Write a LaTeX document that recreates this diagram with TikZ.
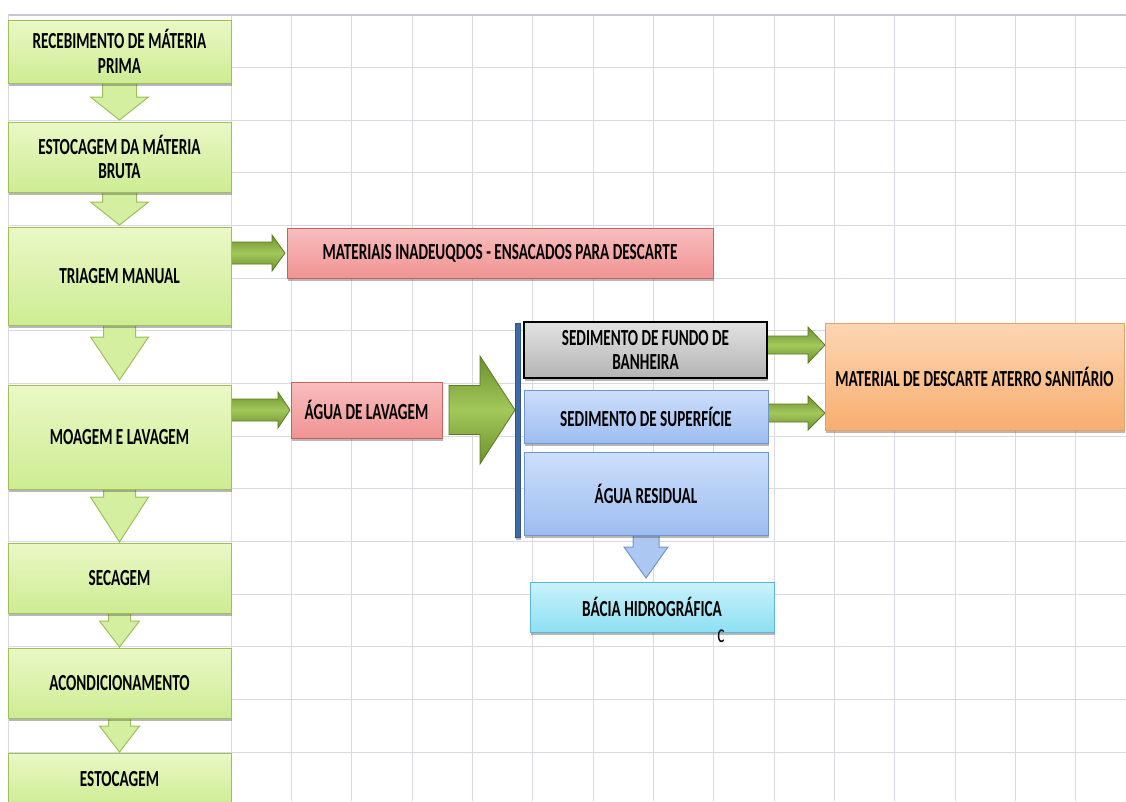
\documentclass[tikz,border=0pt]{standalone}
\usepackage{fontspec}
\setmainfont{Carlito}[FakeStretch=0.66]
\usetikzlibrary{calc,shadows}
\pgfdeclarelayer{grid}
\pgfdeclarelayer{arrows}
\pgfsetlayers{grid,arrows,main}
\definecolor{gridc}{HTML}{D9D9E6}
\definecolor{gtop}{HTML}{EAF8C6}
\definecolor{gbot}{HTML}{CDEC92}
\definecolor{gline}{HTML}{9FBF5A}
\definecolor{darr}{HTML}{D4EFA0}
\definecolor{rarrA}{HTML}{6E902E}
\definecolor{rarrB}{HTML}{A2C85A}
\definecolor{rarrL}{HTML}{5A7A24}
\definecolor{ptop}{HTML}{F8BEBE}
\definecolor{pbot}{HTML}{F19393}
\definecolor{pline}{HTML}{C9605C}
\definecolor{graytop}{HTML}{E2E2E2}
\definecolor{graybot}{HTML}{B4B4B4}
\definecolor{btop}{HTML}{CDDFFB}
\definecolor{bbot}{HTML}{9DBDF0}
\definecolor{bline}{HTML}{6F95CF}
\definecolor{otop}{HTML}{FCD6B2}
\definecolor{obot}{HTML}{F8AE70}
\definecolor{oline}{HTML}{E9A062}
\definecolor{ctop}{HTML}{C9F2FB}
\definecolor{cbot}{HTML}{8EDFF3}
\definecolor{cline}{HTML}{5CB6D6}
\definecolor{barc}{HTML}{3F6AA8}
\newcommand\downarr[6]{%
  \draw[#1] ($(#2)+(-#4,0)$) -- ($(#2)+(#4,0)$) -- ($(#3)+(#4,-#6)$) -- ($(#3)+(#5,-#6)$) -- (#3) -- ($(#3)+(-#5,-#6)$) -- ($(#3)+(-#4,-#6)$) -- cycle;}
\newcommand\rightarr[6]{%
  \draw[#1] ($(#2)+(0,-#4)$) -- ($(#3)+(-#6,-#4)$) -- ($(#3)+(-#6,-#5)$) -- (#3) -- ($(#3)+(-#6,#5)$) -- ($(#3)+(-#6,#4)$) -- ($(#2)+(0,#4)$) -- cycle;}
\begin{document}
\begin{tikzpicture}[x=1pt,y=-1pt,
  box/.style={draw, line width=1pt, rectangle, anchor=north west, inner sep=2pt, outer sep=0pt,
    align=center, font=\fontsize{23}{24.5}\selectfont\bfseries,
    drop shadow={shadow xshift=1pt, shadow yshift=-3pt, opacity=0.4, fill=black!70}},
  greenbox/.style={box, draw=gline, top color=gtop, bottom color=gbot, minimum width=223pt},
  pinkbox/.style={box, draw=pline, top color=ptop, bottom color=pbot},
  graybox/.style={box, draw=black, line width=1.3pt, top color=graytop, bottom color=graybot},
  bluebox/.style={box, draw=bline, top color=btop, bottom color=bbot},
  orangebox/.style={box, draw=oline, top color=otop, bottom color=obot},
  cyanbox/.style={box, draw=cline, top color=ctop, bottom color=cbot},
  greendown/.style={draw=gline, line width=1pt, fill=darr, line join=miter},
  greenright/.style={draw=rarrL, line width=0.8pt, top color=rarrA, bottom color=rarrA, middle color=rarrB},
  bluedown/.style={draw=bline, line width=1pt, fill=bbot!85!white},
]
\useasboundingbox (0,0) rectangle (1126,801);
% grid
\begin{pgfonlayer}{grid}
  \fill[white] (0,0) rectangle (1126,801);
  \foreach \i in {0,...,14} {
    \draw[gridc, line width=1pt] ({231+60.35*\i},15) -- ({231+60.35*\i},801);
    \draw[gridc, line width=1pt] (8,{15+52.66*\i}) -- (1126,{15+52.66*\i});
  }
  \draw[gridc!80!gray, line width=2pt] (8,15) -- (1126,15);
  \draw[gridc, line width=1pt] (8,15) -- (8,801);
\end{pgfonlayer}
% left column
\node[greenbox, minimum height=63pt] (g1) at (8,20) {RECEBIMENTO DE MÁTERIA\\PRIMA};
\node[greenbox, minimum height=70pt] (g2) at (8,122) {ESTOCAGEM DA MÁTERIA\\BRUTA};
\node[greenbox, minimum height=98pt] (g3) at (8,227) {TRIAGEM MANUAL};
\node[greenbox, minimum height=104pt] (g4) at (8,385) {MOAGEM E LAVAGEM};
\node[greenbox, minimum height=70pt] (g5) at (8,543) {SECAGEM};
\node[greenbox, minimum height=70pt] (g6) at (8,648) {ACONDICIONAMENTO};
\node[greenbox, minimum height=53pt] (g7) at (8,753) {ESTOCAGEM};
% right side
\node[pinkbox, minimum width=426pt, minimum height=50pt] (mat) at (287,228) {MATERIAIS INADEUQDOS - ENSACADOS PARA DESCARTE};
\node[pinkbox, minimum width=151pt, minimum height=56pt] (agua) at (291,382) {ÁGUA DE LAVAGEM};
\node[box, draw=barc!80!black, line width=0.5pt, fill=barc, minimum width=5pt, minimum height=214pt, inner sep=0pt] (bar) at (515,323) {};
\node[graybox, minimum width=243pt, minimum height=56pt] (fundo) at (524,322) {SEDIMENTO DE FUNDO DE\\BANHEIRA};
\node[bluebox, minimum width=244pt, minimum height=53pt] (sup) at (524,390) {SEDIMENTO DE SUPERFÍCIE};
\node[bluebox, minimum width=244pt, minimum height=83pt] (res) at (524,452) {ÁGUA RESIDUAL};
\node[cyanbox, minimum width=244pt, minimum height=50pt] (bacia) at (530,582) {BÁCIA HIDROGRÁFICA};
\node[orangebox, minimum width=299pt, minimum height=107pt] (ater) at (825,323) {MATERIAL DE DESCARTE ATERRO SANITÁRIO};
\node[font=\fontsize{26}{26}\selectfont, inner sep=0pt, anchor=north] (stray) at (721,630) {c};
% connector coordinates
\coordinate (t2) at ($(g2.north)+(0,-2)$);
\coordinate (t3) at ($(g3.north)+(0,-2)$);
\coordinate (t4) at ($(g4.north)+(0,-5)$);
\coordinate (t5) at ($(g5.north)+(0,-1)$);
\coordinate (t6) at ($(g6.north)+(0,-1)$);
\coordinate (t7) at ($(g7.north)+(0,-1)$);
\coordinate (s8) at (g3.east |- mat.west);
\coordinate (t8) at ($(mat.west)+(-2,0)$);
\coordinate (s9) at (g4.east |- agua.west);
\coordinate (t9) at ($(agua.west)+(-1,0)$);
\coordinate (s10) at ($(agua.east)+(7,0)$);
\coordinate (t10) at (bar.west |- agua.east);
\coordinate (s11) at ($(fundo.east)+(0,-5)$);
\coordinate (t11) at (ater.west |- s11);
\coordinate (s12) at ($(sup.east)+(0,-3.5)$);
\coordinate (t12) at (ater.west |- s12);
\coordinate (t13) at ($(res.south |- bacia.north)+(0,-4)$);
\begin{pgfonlayer}{arrows}
  \downarr{greendown}{g1.south}{t2}{17}{29}{23}
  \downarr{greendown}{g2.south}{t3}{17}{29}{23}
  \downarr{greendown}{g3.south}{t4}{16}{29}{43}
  \downarr{greendown}{g4.south}{t5}{16}{29}{45}
  \downarr{greendown}{g5.south}{t6}{11}{20}{26}
  \downarr{greendown}{g6.south}{t7}{11}{20}{26}
  \rightarr{greenright}{s8}{t8}{11}{18}{13}
  \rightarr{greenright}{s9}{t9}{11}{18}{12}
  \rightarr{greenright}{s10}{t10}{24.5}{54}{35}
  \rightarr{greenright}{s11}{t11}{9}{18}{17}
  \rightarr{greenright}{s12}{t12}{9}{17}{17}
  \downarr{bluedown}{res.south}{t13}{13}{22}{31}
\end{pgfonlayer}
\end{tikzpicture}
\end{document}
